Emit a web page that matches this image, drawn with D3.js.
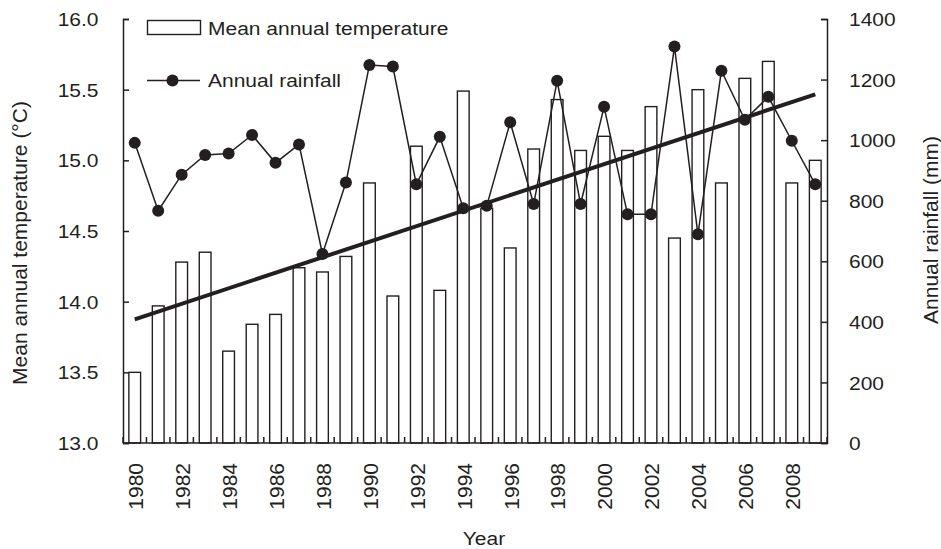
<!DOCTYPE html>
<html>
<head>
<meta charset="utf-8">
<script src="https://cdn.jsdelivr.net/npm/d3@7"></script>
<style>
	body { margin: 0; background: #fff; }
	text { font-family: 'Liberation Sans', Arial, sans-serif; font-size: 21px; fill: #231f20; }
</style>
</head>
<body>
<div id="chart"></div>
<script>
const years = d3.range(1980, 2010)

// mean annual temperature (°C), one per year
const temperature = [
	13.50, 13.97, 14.28, 14.35, 13.65, 13.84, 13.91, 14.24, 14.21, 14.32,
	14.84, 14.04, 15.10, 14.08, 15.49, 14.66, 14.38, 15.08, 15.43, 15.07,
	15.17, 15.07, 15.38, 14.45, 15.50, 14.84, 15.58, 15.70, 14.84, 15.00,
]

// annual rainfall (mm), one per year
const rainfall = [
	991, 767, 886, 951, 956, 1017, 925, 986, 624, 860,
	1248, 1243, 854, 1011, 775, 783, 1059, 789, 1196, 789,
	1110, 755, 755, 1309, 689, 1229, 1067, 1143, 998, 854,
]

// temperature trend line, read at the first and last year
const trendYears = [1980, 2009]
const trendTemps = [13.875, 15.467]

const tempTicks = [13.0, 13.5, 14.0, 14.5, 15.0, 15.5, 16.0]
const rainTicks = [0, 200, 400, 600, 800, 1000, 1200, 1400]
const yearLabels = years.filter(y => y % 2 === 0)

const width = 941
const height = 549
const margin = { top: 19, right: 114, bottom: 106, left: 123 }
const INK = '#231f20'
// the original lettering is a bit flatter than the font
const SQUASH = 0.9

const svg = d3.select('#chart').append('svg')
	.attr('width', width)
	.attr('height', height)

const x = d3.scaleBand()
	.domain(years)
	.range([margin.left, width - margin.right])
	.paddingInner(0.5)
	.paddingOuter(0.25)

const yTemp = d3.scaleLinear()
	.domain([13, 16])
	.range([height - margin.bottom, margin.top])

const yRain = d3.scaleLinear()
	.domain([0, 1400])
	.range([height - margin.bottom, margin.top])

function flatText(sel, tx, ty) {
	return sel.attr('transform', `translate(${tx},${ty}) scale(1,${SQUASH})`)
}

// bars
svg.append('g')
	.selectAll('rect')
	.data(temperature)
	.enter()
		.append('rect')
		.attr('x', (d, i) => x(years[i]))
		.attr('y', d => yTemp(d))
		.attr('width', x.bandwidth())
		.attr('height', d => yTemp(13) - yTemp(d))
		.attr('fill', '#fff')
		.attr('stroke', INK)
		.attr('stroke-width', 1.4)

// rainfall line + dots
let cx = (d, i) => x(years[i]) + x.bandwidth() / 2
let rainLine = d3.line()
	.x(cx)
	.y(d => yRain(d))

svg.append('path')
	.datum(rainfall)
	.attr('d', rainLine)
	.attr('fill', 'none')
	.attr('stroke', INK)
	.attr('stroke-width', 1.5)

svg.append('g')
	.selectAll('circle')
	.data(rainfall)
	.enter()
		.append('circle')
		.attr('cx', cx)
		.attr('cy', d => yRain(d))
		.attr('r', 6)
		.attr('fill', INK)

// trend line
svg.append('line')
	.attr('x1', x(trendYears[0]) + x.bandwidth() / 2)
	.attr('y1', yTemp(trendTemps[0]))
	.attr('x2', x(trendYears[1]) + x.bandwidth() / 2)
	.attr('y2', yTemp(trendTemps[1]))
	.attr('stroke', INK)
	.attr('stroke-width', 4)

// axes, ticks pointing into the plot
let leftAxis = svg.append('g')
	.attr('transform', `translate(${margin.left},0)`)
	.call(d3.axisRight(yTemp).tickValues(tempTicks).tickSize(6))
leftAxis.selectAll('text').remove()
leftAxis.selectAll('.tick').append('text')
	.call(flatText, -24.5, 0)
	.attr('dy', '0.35em')
	.attr('text-anchor', 'end')
	.text(d => d3.format('.1f')(d))

let rightAxis = svg.append('g')
	.attr('transform', `translate(${width - margin.right},0)`)
	.call(d3.axisLeft(yRain).tickValues(rainTicks).tickSize(6))
rightAxis.selectAll('text').remove()
rightAxis.selectAll('.tick').append('text')
	.call(flatText, 22, 0)
	.attr('dy', '0.35em')
	.attr('text-anchor', 'start')
	.text(d => d)

// bottom axis: ticks at band boundaries, pointing up
let boundaries = d3.range(years.length + 1).map(i => margin.left + i * x.step())
let bottom = svg.append('g')
bottom.append('line')
	.attr('x1', margin.left)
	.attr('x2', width - margin.right)
	.attr('y1', yTemp(13))
	.attr('y2', yTemp(13))
bottom.selectAll('.btick')
	.data(boundaries)
	.enter()
		.append('line')
		.attr('class', 'btick')
		.attr('x1', d => d)
		.attr('x2', d => d)
		.attr('y1', yTemp(13))
		.attr('y2', yTemp(13) - 6)
bottom.selectAll('line').attr('stroke', INK).attr('stroke-width', 1.5)

svg.selectAll('.domain, .tick line')
	.attr('stroke', INK)
	.attr('stroke-width', 1.5)

svg.append('g')
	.selectAll('text')
	.data(yearLabels)
	.enter()
		.append('text')
		.attr('transform', d => `translate(${x(d) + x.bandwidth() / 2 + 1},${yTemp(13) + 20}) rotate(-90)`)
		.attr('dy', '0.35em')
		.attr('text-anchor', 'end')
		.text(d => d)

// axis titles
svg.append('text')
	.attr('transform', 'translate(27,243) rotate(-90)')
	.attr('text-anchor', 'middle')
	.text('Mean annual temperature (°C)')

svg.append('text')
	.attr('transform', 'translate(938,230) rotate(-90)')
	.attr('text-anchor', 'middle')
	.text('Annual rainfall (mm)')

svg.append('text')
	.call(flatText, (margin.left + width - margin.right) / 2 + 9, 545)
	.attr('text-anchor', 'middle')
	.text('Year')

// legend
let legend = svg.append('g')
legend.append('rect')
	.attr('x', 147.5)
	.attr('y', 20.5)
	.attr('width', 53)
	.attr('height', 14)
	.attr('fill', '#fff')
	.attr('stroke', INK)
	.attr('stroke-width', 1.4)
legend.append('text')
	.call(flatText, 208, 28.5)
	.attr('dy', '0.35em')
	.text('Mean annual temperature')

legend.append('line')
	.attr('x1', 147)
	.attr('x2', 200)
	.attr('y1', 80.5)
	.attr('y2', 80.5)
	.attr('stroke', INK)
	.attr('stroke-width', 1.5)
legend.append('circle')
	.attr('cx', 172.5)
	.attr('cy', 80.5)
	.attr('r', 6)
	.attr('fill', INK)
legend.append('text')
	.call(flatText, 208, 80)
	.attr('dy', '0.35em')
	.text('Annual rainfall')
</script>
</body>
</html>
